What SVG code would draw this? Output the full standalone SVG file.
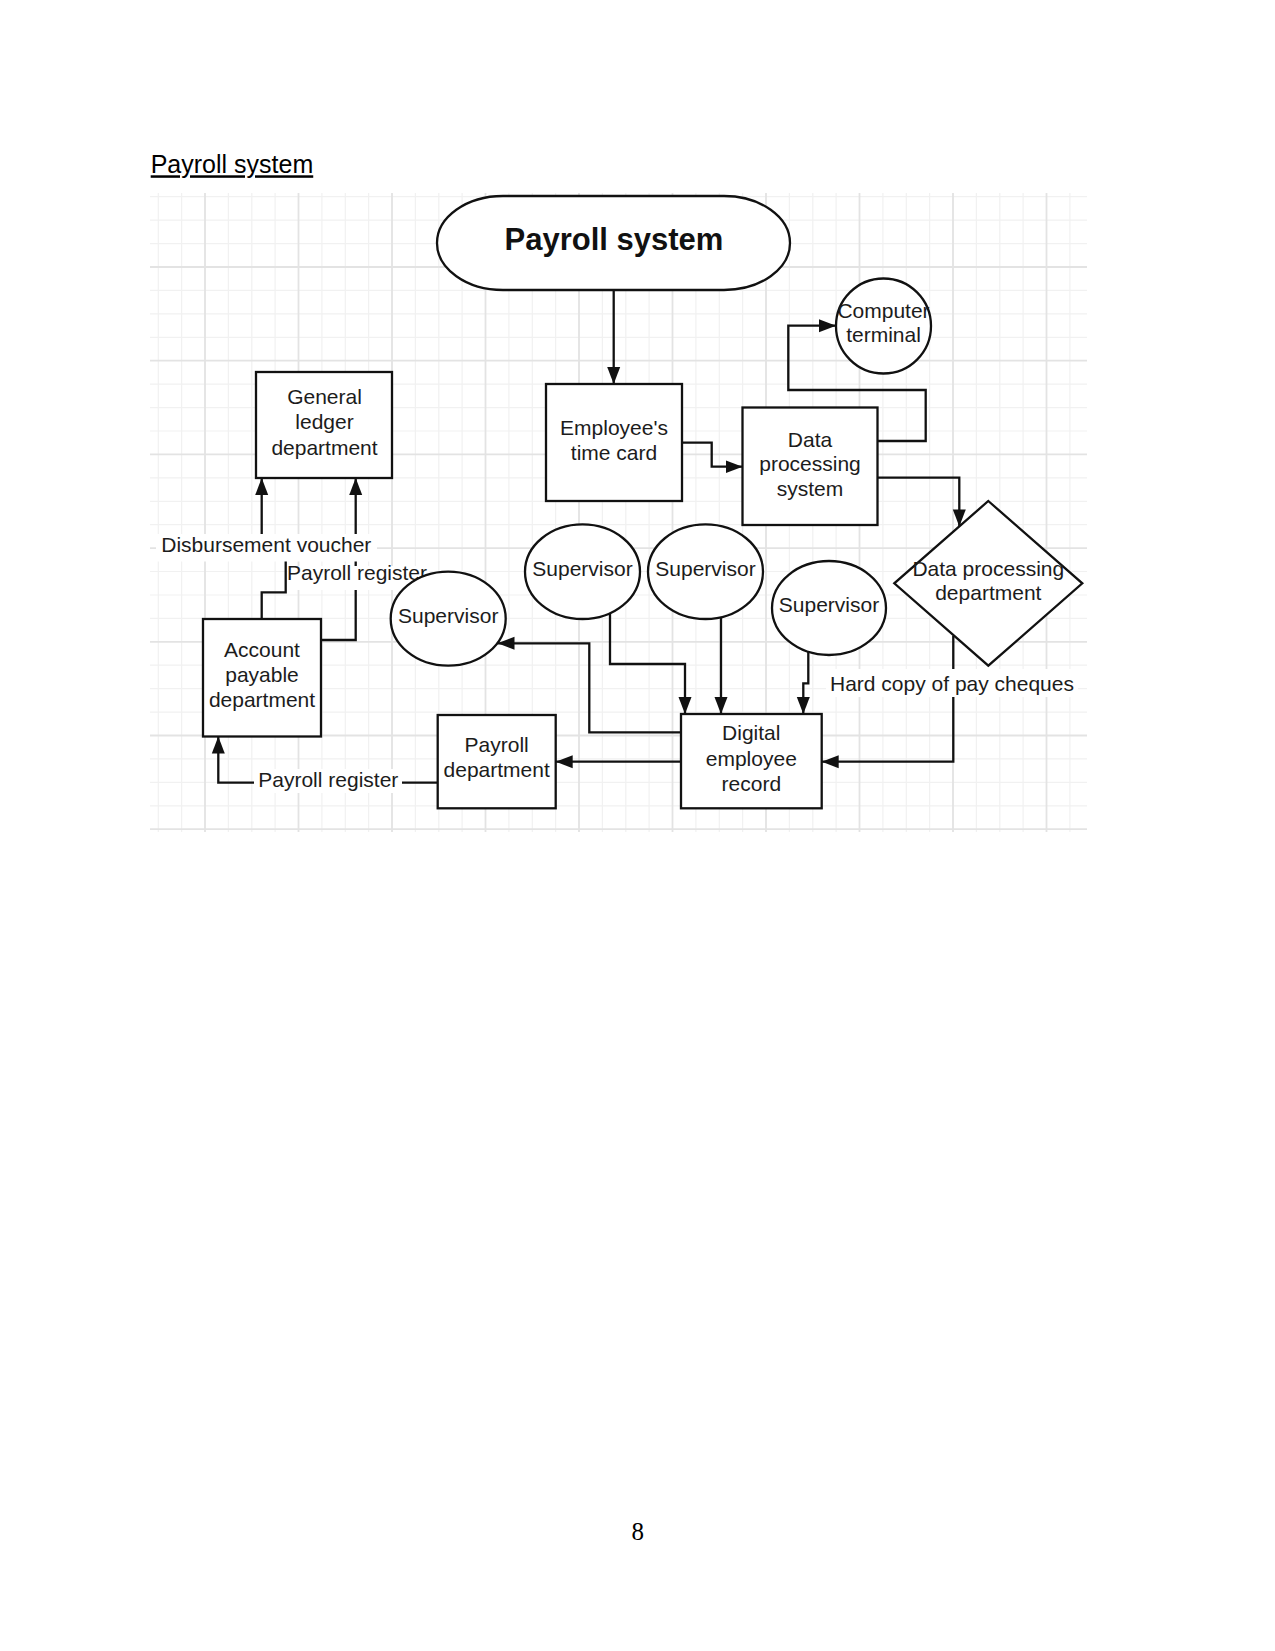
<svg xmlns="http://www.w3.org/2000/svg" width="1275" height="1651" viewBox="0 0 1275 1651">
<defs>
<marker id="arr" markerUnits="userSpaceOnUse" markerWidth="18" markerHeight="14" refX="17" refY="7" orient="auto">
<path d="M0,0.5 L17,7 L0,13.5 Z" fill="#111"/>
</marker>
<style>
.t{font-family:"Liberation Sans",Arial,sans-serif;font-size:21px;fill:#1c1c1c;text-anchor:middle}
.shape{fill:#fff;stroke:#111;stroke-width:2.3}
.conn{fill:none;stroke:#111;stroke-width:2.3}
.lbg{fill:#fff}
.gmin{fill:none;stroke:#f1f1f1;stroke-width:1.2}
.gmaj{fill:none;stroke:#e3e3e3;stroke-width:1.8}
</style>
</defs>
<rect width="1275" height="1651" fill="#fff"/>
<text x="150.7" y="173.3" font-family="Liberation Sans,Arial,sans-serif" font-size="25" fill="#000" text-decoration="underline">Payroll system</text>
<g id="grid">
<path class="gmin" d="M158.3 193V832M181.6 193V832M228.4 193V832M251.8 193V832M275.1 193V832M321.9 193V832M345.3 193V832M368.6 193V832M415.4 193V832M438.8 193V832M462.1 193V832M508.9 193V832M532.3 193V832M555.6 193V832M602.4 193V832M625.8 193V832M649.1 193V832M695.9 193V832M719.3 193V832M742.6 193V832M789.4 193V832M812.8 193V832M836.1 193V832M882.9 193V832M906.3 193V832M929.6 193V832M976.4 193V832M999.8 193V832M1023.1 193V832M1069.9 193V832M150 196.7H1087M150 220.1H1087M150 243.6H1087M150 290.4H1087M150 313.9H1087M150 337.3H1087M150 384.1H1087M150 407.6H1087M150 431H1087M150 477.8H1087M150 501.3H1087M150 524.7H1087M150 571.5H1087M150 595H1087M150 618.4H1087M150 665.2H1087M150 688.7H1087M150 712.1H1087M150 758.9H1087M150 782.4H1087M150 805.8H1087"/>
<path class="gmaj" d="M205 193V832M298.5 193V832M392 193V832M485.5 193V832M579 193V832M672.5 193V832M766 193V832M859.5 193V832M953 193V832M1046.5 193V832M150 267H1087M150 360.7H1087M150 454.4H1087M150 548.1H1087M150 641.8H1087M150 735.5H1087M150 829.2H1087"/>
</g>
<g id="connectors">
<path class="conn" d="M613.7,290 V384" marker-end="url(#arr)"/>
<path class="conn" d="M682,442.7 H711.7 V466.7 H742.5" marker-end="url(#arr)"/>
<path class="conn" d="M877.5,441 H925.7 V390 H788.3 V325.7 H836" marker-end="url(#arr)"/>
<path class="conn" d="M877.5,477.7 H959.3 V526.4" marker-end="url(#arr)"/>
<path class="conn" d="M953.3,636 V761.7 H821.7" marker-end="url(#arr)"/>
<path class="conn" d="M808.3,652 V683.3 H803.3 V714" marker-end="url(#arr)"/>
<path class="conn" d="M610,613 V664 H685 V714" marker-end="url(#arr)"/>
<path class="conn" d="M721,617.5 V714" marker-end="url(#arr)"/>
<path class="conn" d="M681,732.3 H589.3 V643.3 H497.5" marker-end="url(#arr)"/>
<path class="conn" d="M681,761.7 H555.7" marker-end="url(#arr)"/>
<path class="conn" d="M437.7,782.7 H218.3 V736.5" marker-end="url(#arr)"/>
<path class="conn" d="M261.7,619 V592.3 H285.7 V545 H261.7 V478" marker-end="url(#arr)"/>
<path class="conn" d="M321,640 H355.7 V478" marker-end="url(#arr)"/>
<rect class="lbg" x="826" y="669" width="252" height="28"/>
<text class="t" x="952" y="691">Hard copy of pay cheques</text>
<rect class="lbg" x="254" y="769" width="148" height="24"/>
<text class="t" x="328.3" y="786.7">Payroll register</text>
<rect class="lbg" x="156" y="534" width="221" height="27.5"/>
<text class="t" x="266.3" y="551.7">Disbursement voucher</text>
<rect class="lbg" x="287.5" y="566" width="142" height="24"/>
<text class="t" x="357" y="580">Payroll register</text>
</g>
<g id="payroll-system">
<path class="shape" d="M503,196 H724 A66,47 0 0 1 724,290 H503 A66,47 0 0 1 503,196 Z"/>
<text class="t" x="614" y="250" style="font-size:31px;font-weight:bold;fill:#111">Payroll system</text>
</g>
<g id="employees-time-card">
<rect class="shape" x="546" y="384" width="136" height="117"/>
<text class="t" x="614" y="435">Employee's</text>
<text class="t" x="614" y="459.5">time card</text>
</g>
<g id="data-processing-system">
<rect class="shape" x="742.5" y="407.5" width="135" height="117.5"/>
<text class="t" x="810" y="446.5">Data</text>
<text class="t" x="810" y="471">processing</text>
<text class="t" x="810" y="495.5">system</text>
</g>
<g id="computer-terminal">
<circle class="shape" cx="883.5" cy="326" r="47.5"/>
<text class="t" x="883.5" y="318">Computer</text>
<text class="t" x="883.5" y="342">terminal</text>
</g>
<g id="general-ledger">
<rect class="shape" x="256" y="372" width="136" height="106"/>
<text class="t" x="324.5" y="403.5">General</text>
<text class="t" x="324.5" y="429">ledger</text>
<text class="t" x="324.5" y="454.5">department</text>
</g>
<g id="account-payable">
<rect class="shape" x="203" y="619" width="118" height="117.5"/>
<text class="t" x="262" y="656.7">Account</text>
<text class="t" x="262" y="681.7">payable</text>
<text class="t" x="262" y="706.7">department</text>
</g>
<g id="payroll-department">
<rect class="shape" x="437.7" y="715" width="118" height="93.3"/>
<text class="t" x="496.7" y="751.7">Payroll</text>
<text class="t" x="496.7" y="776.7">department</text>
</g>
<g id="digital-employee-record">
<rect class="shape" x="681" y="714" width="140.7" height="94.3"/>
<text class="t" x="751.3" y="740">Digital</text>
<text class="t" x="751.3" y="765.5">employee</text>
<text class="t" x="751.3" y="790.5">record</text>
</g>
<g id="supervisor-1">
<ellipse class="shape" cx="582.5" cy="571.7" rx="57.5" ry="47.3"/>
<text class="t" x="582.5" y="576">Supervisor</text>
</g>
<g id="supervisor-2">
<ellipse class="shape" cx="705.5" cy="571.7" rx="57.5" ry="47.3"/>
<text class="t" x="705.5" y="576">Supervisor</text>
</g>
<g id="supervisor-3">
<ellipse class="shape" cx="829" cy="608" rx="57" ry="47"/>
<text class="t" x="829" y="611.7">Supervisor</text>
</g>
<g id="supervisor-4">
<ellipse class="shape" cx="448.2" cy="618.7" rx="57.5" ry="47"/>
<text class="t" x="448.2" y="622.7">Supervisor</text>
</g>
<g id="data-processing-department">
<polygon class="shape" points="988.3,501 1082.3,583.3 988.3,665.7 894.3,583.3"/>
<text class="t" x="988.3" y="576">Data processing</text>
<text class="t" x="988.3" y="600">department</text>
</g>
<text x="637.8" y="1540" font-family="Liberation Serif,Times New Roman,serif" font-size="25" fill="#000" text-anchor="middle">8</text>
</svg>
